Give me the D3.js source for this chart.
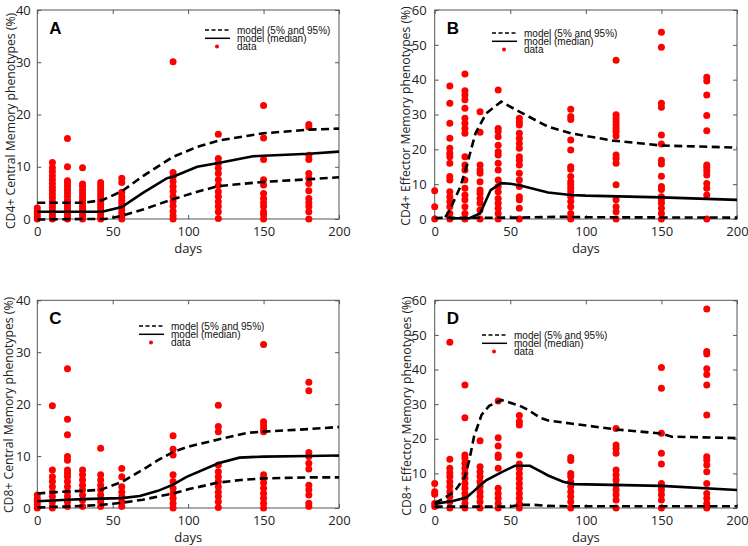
<!DOCTYPE html>
<html><head><meta charset="utf-8">
<script src="https://cdn.jsdelivr.net/npm/d3@7/dist/d3.min.js"></script>
<style>body{margin:0;background:#fff}</style>
</head><body>
<svg id="c" width="748" height="546"></svg>
<script>
// ---------------- data ----------------
const sampleDays = [0, 10, 20, 30, 42, 56, 90, 120, 150, 180];
const xTicks = [0, 50, 100, 150, 200];
const yTicks40 = [0, 10, 20, 30, 40];
const yTicks60 = [0, 10, 20, 30, 40, 50, 60];
const panelLetters = ["A", "B", "C", "D"];
const yTitles = [
  "CD4+ Central Memory phenotypes (%)",
  "CD4+ Effector Memory phenotypes (%)",
  "CD8+ Central Memory phenotypes (%)",
  "CD8+ Effector Memory phenotypes (%)"
];
const xTitle = "days";
const legendLabels = ["model (5% and 95%)", "model (median)", "data"];

// observed data, one list per sample day
const obsA = [
  [0, 0.5, 1, 1.5, 2.1],
  [0, 0.5, 1, 1.6, 2.2, 2.8, 3.4, 4.1, 4.8, 5.5, 6.1, 6.8, 7.5, 8.3, 9.1, 9.8, 10.8],
  [0, 0.5, 1, 1.5, 2, 2.6, 3.2, 3.6, 4.3, 5, 5.6, 6.2, 6.8, 7.3, 10, 15.4],
  [0, 0.6, 1.2, 1.8, 2.4, 3, 3.6, 4.2, 4.8, 5.5, 6.2, 6.7, 9.8],
  [0, 0.4, 1, 1.6, 2.2, 2.8, 3.4, 4, 4.6, 5.2, 5.8, 6.4, 7],
  [0, 0.5, 1.1, 1.7, 2.4, 3, 3.6, 4.3, 5.1, 7, 7.8],
  [0, 0.6, 1.5, 2.5, 3.4, 4.3, 5.3, 6.2, 7.2, 8.1, 8.9, 30.1],
  [0.1, 1.4, 2.4, 3.3, 4.3, 5.2, 6.4, 7.5, 8.7, 9.7, 10.6, 11.6, 16.2],
  [0, 0.8, 1.4, 2.4, 3.1, 3.9, 4.9, 6.5, 7.5, 11.4, 15.5, 21.7],
  [0, 1.4, 2.4, 3.1, 3.9, 5.4, 6.8, 7.8, 8.7, 11.4, 12.2, 17.6, 18.1]
];
const obsB = [
  [0, 3.5, 8.1],
  [0, 1.6, 3.5, 5, 6.4, 7.8, 11.2, 12.2, 16, 17.9, 18.9, 20.3, 23.2, 27.5, 33.2, 38.2],
  [0, 1.6, 3.5, 5.5, 6.9, 8.8, 11.2, 14.1, 15.5, 17.9, 24.6, 26, 27.5, 28.9, 31.8, 34.2, 35.6, 36.8, 41.6],
  [0, 2.6, 4.5, 5.9, 7.4, 8.3, 10.7, 13.1, 14.1, 15.5, 24.9, 30.8],
  [0, 1.6, 3.1, 4.5, 5.9, 7.8, 9.3, 11.2, 14.1, 16, 18.4, 19.3, 21.2, 23.6, 25.1, 26, 37],
  [0, 3.1, 5.5, 6.4, 9.3, 11.2, 13.1, 15.5, 16.9, 17.9, 20.3, 21.7, 23.2, 24.6, 27, 27.9, 28.9],
  [0, 1.6, 3.5, 5, 6.4, 7.8, 8.8, 9.8, 10.7, 12.2, 14.3, 15, 19.8, 22.7, 28.6, 29.4, 31.5],
  [0, 2.1, 3.5, 5.5, 9.8, 16, 17.4, 18.4, 23.8, 25.1, 26, 27, 27.9, 28.9, 29.9, 45.6],
  [0, 1.6, 3.1, 4.5, 5.5, 6.4, 8.5, 9.3, 12.3, 15.8, 16.9, 21.5, 24.1, 32.1, 33.2, 49.3, 53.6],
  [0, 6.9, 8.8, 10.2, 12.6, 13.8, 14.7, 15.5, 25.3, 29.7, 35.6, 39.6, 40.7]
];
const obsC = [
  [0, 0.6, 1.2, 1.8, 2.5],
  [0, 0.3, 1.2, 2.2, 3.1, 4.1, 5.1, 6, 7.3, 19.7],
  [0.3, 1.2, 2.2, 3.1, 4.1, 5.1, 6, 6.7, 7.3, 9.2, 9.9, 14.1, 17.1, 26.8],
  [0.3, 1.5, 2.5, 3.5, 4.4, 5.4, 6.4, 7.3],
  [0.3, 1.2, 2.5, 3.5, 4.4, 5.4, 6.4, 11.5],
  [0.3, 1.2, 2.2, 3.1, 4.1, 6, 7.6],
  [0, 0.9, 1.9, 2.8, 3.8, 5.1, 6.4, 10.2, 11.3, 13.9],
  [0.1, 1.2, 2.2, 3.1, 4.1, 5.1, 6, 7, 8.3, 14.7, 15.7, 19.8],
  [0, 0.9, 1.9, 2.8, 3.8, 4.8, 5.7, 6.4, 14.7, 15.3, 16, 16.6, 31.5],
  [0.3, 0.9, 2.5, 3.5, 4.4, 7.5, 8.6, 9.9, 10.7, 22.6, 24.2]
];
const obsD = [
  [0.4, 1.3, 4, 4.7, 7.1],
  [0, 1.8, 3.3, 4.7, 6.2, 7.6, 9.1, 10.2, 11.5, 14.1, 47.9],
  [0, 1.3, 2.8, 4.2, 5.7, 7.1, 8.6, 10, 11.5, 12.9, 14.4, 15.3, 26.1, 35.5],
  [0, 1.8, 3.3, 4.7, 6.2, 7.6, 9.1, 10.5, 11.9, 19.4],
  [0, 1.3, 2.8, 4.2, 5.7, 11.5, 14.6, 15.3, 17.9, 20.3, 30.9],
  [0, 1.3, 2.8, 4.2, 5.7, 7.1, 8.6, 10, 11.5, 12.7, 15.3, 24, 25, 26.7],
  [0, 1.8, 3.3, 4.7, 6.2, 7.6, 9.1, 10, 13.7, 14.6],
  [0, 2.3, 3.8, 5.2, 6.6, 8.1, 9.5, 11, 15.8, 17.2, 18.2, 23],
  [0, 2.3, 3.8, 5.2, 6.2, 7.1, 12.7, 15.8, 21.6, 34.6, 40.6],
  [0, 1.3, 2.8, 4.2, 7.1, 10.5, 12.4, 13.9, 14.8, 26.9, 35.5, 38.6, 40.2, 44.5, 45.2, 57.5]
];

// model curves: [day, value]
const upperA = [[0,3.1],[30,3.1],[43,3.6],[56,5.3],[70,8.2],[90,11.9],[106,13.8],[120,15.0],[150,16.4],[180,17.1],[200,17.3]];
const medianA = [[0,1.4],[30,1.4],[43,1.4],[56,2.3],[70,5.0],[86,7.8],[90,8.1],[106,10.0],[120,10.7],[143,12.0],[150,12.1],[180,12.5],[200,12.9]];
const lowerA = [[0,-0.1],[30,0],[45,0],[56,0.6],[70,1.8],[90,3.8],[106,5.2],[120,6.3],[150,7.1],[180,7.6],[200,8.0]];

const upperB = [[7,0.5],[10,2.6],[17,9.3],[21,15],[27,24.6],[34,30.3],[44,33.7],[56,30.8],[75,26.5],[90,24.6],[118,22.5],[150,21.1],[200,20.5]];
const medianB = [[10,0.2],[23,0.2],[30,1.6],[37,8.3],[44,10.3],[50,10.1],[56,9.7],[75,7.6],[90,6.9],[100,6.7],[150,6.2],[200,5.5]];
const lowerB = [[0,0.3],[56,0.4],[80,0.6],[90,0.6],[100,0.5],[200,0.4]];

const upperC = [[0,2.8],[20,3.2],[30,3.3],[42,3.5],[56,5.0],[70,7.4],[80,9.2],[90,10.8],[100,11.8],[120,13.2],[140,14.5],[150,14.7],[180,15.2],[200,15.6]];
const medianC = [[0,1.3],[20,1.6],[30,1.7],[42,1.8],[56,1.9],[68,2.3],[80,3.3],[90,4.5],[99,6.0],[120,8.6],[134,9.7],[150,9.9],[180,10.0],[200,10.1]];
const lowerC = [[0,0.1],[20,0.3],[30,0.4],[42,0.6],[56,1.0],[70,1.6],[80,2.2],[90,2.8],[100,3.6],[120,4.9],[135,5.4],[150,5.7],[180,5.9],[200,5.9]];

const upperD = [[0,1.5],[5,2.5],[13,4.7],[20,9],[23,14],[26,20.6],[31,26.9],[36,29.5],[44,31.2],[56,29.6],[62,28.3],[70,26],[75,25.3],[90,24.4],[120,22.7],[150,21.5],[157,20.6],[200,20.2]];
const medianD = [[0,1.2],[12,2],[21,3],[34,8],[45,10.5],[53,12.2],[63,12.2],[70,10.6],[75,9.4],[85,7.6],[92,6.9],[150,6.4],[200,5.2]];
const lowerD = [[0,0.4],[50,0.4],[56,0.9],[66,0.9],[75,0.6],[90,0.5],[200,0.5]];

// ---------------- layout ----------------
const panels = [
  {obs: obsA, up: upperA, med: medianA, lo: lowerA, yMax: 40, yTicks: yTicks40,
   l: 37.3, r: 339, t: 10, b: 219, yPad: 6.5, ylabX: 10, ylabY: 121, legX: 205, legY: 30},
  {obs: obsB, up: upperB, med: medianB, lo: lowerB, yMax: 60, yTicks: yTicks60,
   l: 434.7, r: 737, t: 10, b: 219, yPad: 8, ylabX: 405, ylabY: 116, legX: 492, legY: 33},
  {obs: obsC, up: upperC, med: medianC, lo: lowerC, yMax: 40, yTicks: yTicks40,
   l: 37.3, r: 339, t: 300.3, b: 508, yPad: 6.5, ylabX: 8.5, ylabY: 405, legX: 139, legY: 326},
  {obs: obsD, up: upperD, med: medianD, lo: lowerD, yMax: 60, yTicks: yTicks60,
   l: 434.7, r: 737, t: 300.3, b: 508, yPad: 8, ylabX: 406, ylabY: 406, legX: 482, legY: 335}
];

const svg = d3.select("#c");
const red = "#ff0000";
const tickFont = "'Open Sans', 'DejaVu Sans', sans-serif";
const legFont = "'Liberation Sans', Arial, sans-serif";

panels.forEach((p, i) => {
  const x = d3.scaleLinear().domain([0, 200]).range([p.l, p.r]);
  const y = d3.scaleLinear().domain([0, p.yMax]).range([p.b, p.t]);
  const g = svg.append("g");

  // frame
  g.append("rect").attr("x", p.l).attr("y", p.t)
    .attr("width", p.r - p.l).attr("height", p.b - p.t)
    .attr("fill", "none").attr("stroke", "#555").attr("stroke-width", 1);

  const styleAxis = (sel) => {
    sel.select(".domain").remove();
    sel.selectAll(".tick line").attr("stroke", "#555");
    sel.selectAll(".tick text").attr("fill", "#222")
      .style("font-family", tickFont).style("font-size", "13px");
  };
  // bottom axis (inward ticks)
  g.append("g").attr("transform", `translate(0,${p.b})`)
    .call(d3.axisBottom(x).tickValues(xTicks).tickSize(-4).tickPadding(8).tickFormat(d3.format("d")))
    .call(styleAxis);
  g.append("g").attr("transform", `translate(0,${p.t})`)
    .call(d3.axisTop(x).tickValues(xTicks).tickSize(-4).tickFormat(""))
    .call(styleAxis);
  g.append("g").attr("transform", `translate(${p.l},0)`)
    .call(d3.axisLeft(y).tickValues(p.yTicks).tickSize(-4).tickPadding(p.yPad).tickFormat(d3.format("d")))
    .call(styleAxis);
  g.append("g").attr("transform", `translate(${p.r},0)`)
    .call(d3.axisRight(y).tickValues(p.yTicks).tickSize(-4).tickFormat(""))
    .call(styleAxis);

  // titles
  g.append("text").attr("x", (p.l + p.r) / 2).attr("y", p.b + 34)
    .attr("text-anchor", "middle").style("font-family", tickFont).style("font-size", "13px")
    .attr("fill", "#222").text(xTitle);
  g.append("text").attr("transform", `translate(${p.ylabX},${p.ylabY}) rotate(-90)`)
    .attr("text-anchor", "middle").attr("dominant-baseline", "central")
    .style("font-family", tickFont).style("font-size", "12.2px").attr("fill", "#222")
    .text(yTitles[i]);
  g.append("text").attr("x", p.l + 12).attr("y", p.t + 24)
    .style("font-family", legFont).style("font-size", "17px").style("font-weight", "bold")
    .text(panelLetters[i]);

  // data dots
  const pts = [];
  sampleDays.forEach((d, k) => p.obs[k].forEach(v => pts.push([d, v])));
  g.append("g").selectAll("circle").data(pts).join("circle")
    .attr("cx", d => x(d[0])).attr("cy", d => y(d[1])).attr("r", 3.5).attr("fill", red);

  // model lines
  const line = d3.line().x(d => x(d[0])).y(d => y(d[1]));
  [[p.up, true], [p.lo, true], [p.med, false]].forEach(([s, dashed]) => {
    g.append("path").attr("d", line(s)).attr("fill", "none")
      .attr("stroke", "#000").attr("stroke-width", 2.6)
      .attr("stroke-dasharray", dashed ? "8,4.5" : null);
  });

  // legend
  const lg = g.append("g").attr("transform", `translate(${p.legX},${p.legY})`);
  lg.append("line").attr("x1", 0).attr("x2", 25).attr("y1", 0).attr("y2", 0)
    .attr("stroke", "#000").attr("stroke-width", 1.5).attr("stroke-dasharray", "4,2.5");
  lg.append("line").attr("x1", 0).attr("x2", 25).attr("y1", 8.3).attr("y2", 8.3)
    .attr("stroke", "#000").attr("stroke-width", 1.5);
  lg.append("circle").attr("cx", 12).attr("cy", 16.6).attr("r", 2).attr("fill", red);
  legendLabels.forEach((t, k) => {
    lg.append("text").attr("x", 32).attr("y", k * 8.3).attr("dy", "0.35em")
      .style("font-family", legFont).style("font-size", "10px").attr("fill", "#111").text(t);
  });
});
</script>
</body></html>
